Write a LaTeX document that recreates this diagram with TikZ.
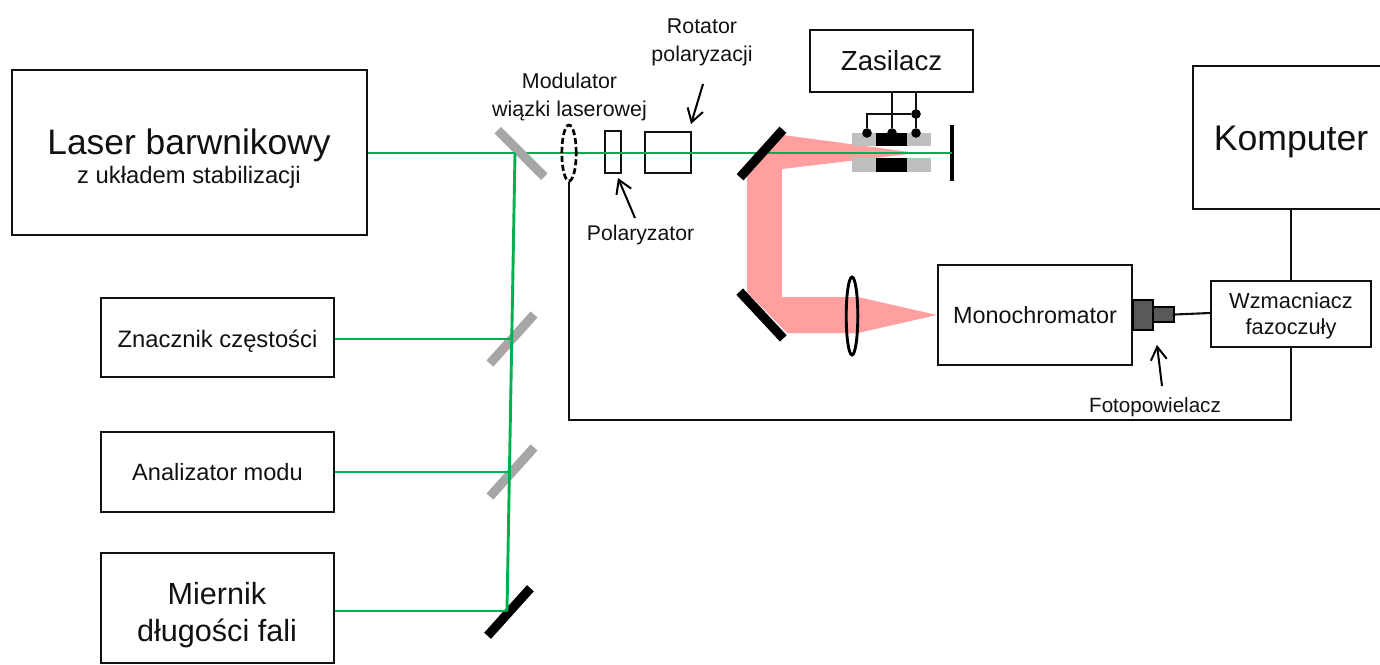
\documentclass[tikz,border=0pt]{standalone}
\usepackage{fontspec}
\setmainfont{Liberation Sans}
\usetikzlibrary{arrows.meta,shapes.geometric}
\definecolor{beamgreen}{HTML}{00B050}
\definecolor{pinkbeam}{HTML}{FF9F9F}
\definecolor{mirgrey}{HTML}{A6A6A6}
\definecolor{mountgrey}{HTML}{BFBFBF}
\definecolor{pmtgrey}{HTML}{595959}
\definecolor{inkc}{HTML}{111111}
\tikzset{
  x=0.5pt,y=-0.5pt,
  outline/.style={draw=inkc,line width=1.15pt,inner sep=0pt,rectangle,text=inkc},
  dimbox/.style 2 args={outline,minimum width=#1*0.5pt,minimum height=#2*0.5pt},
  txt/.style={inner sep=0pt,text=inkc,align=center},
  beam/.style={draw=beamgreen,line width=1.45pt},
  wire/.style={draw=inkc,line width=1.05pt},
  mirrorgrey/.style={fill=mirgrey,inner sep=0pt,rectangle,minimum width=33pt,minimum height=4.6pt},
  mirrorblack/.style={fill=black,inner sep=0pt,rectangle,minimum width=32pt,minimum height=4.6pt},
  block/.style 2 args={inner sep=0pt,rectangle,minimum width=#1*0.5pt,minimum height=#2*0.5pt},
  dot/.style={circle,fill=black,inner sep=0pt,minimum size=4.8pt},
  pointer/.style={draw=black,line width=1pt,-{Straight Barb[length=6.5pt,width=8pt,line width=1pt]}},
}
\begin{document}
\begin{tikzpicture}
\useasboundingbox (0,0) rectangle (1380,664);
% pink beam
\fill[pinkbeam] (783,135) -- (917,153) -- (782,169) -- (782,297) -- (858,297) -- (937,315) -- (858,333) -- (787,333) -- (747,292) -- (747,170) -- cycle;
% coordinates
\coordinate (split) at (515,153);
\coordinate (bottomturn) at (507,611);
\coordinate (tapA) at (512.2,339);
\coordinate (tapB) at (509.8,472);
\coordinate (corner) at (569,420);
\coordinate (lineup) at (1291,420);
% mount
\node[block={79}{13},fill=mountgrey] (mountU) at (891.5,139.5) {};
\node[block={79}{14},fill=mountgrey] (mountL) at (891.5,165) {};
\node[block={31}{13},fill=black] (elecU) at (891.5,139.5) {};
\node[block={31}{14},fill=black] (elecL) at (891.5,165) {};
% screen
\node[block={3.4}{56},fill=black] (screen) at (952,153) {};
% boxes
\node[dimbox={355}{165}] (laser) at (189.5,152.5) {};
\node[txt,font=\fontsize{17.7}{20}\selectfont] (laserA) at (189,145) {Laser barwnikowy};
\node[txt,font=\fontsize{11.9}{14}\selectfont] (laserB) at (189,177) {z układem stabilizacji};
\node[dimbox={233}{79}] (znacznik) at (217.5,337.5) {};
\node[txt,font=\fontsize{11.9}{14}\selectfont] (znacznikT) at (217.5,341) {Znacznik częstości};
\node[dimbox={233}{80},font=\fontsize{11.8}{14}\selectfont] (analizator) at (217.5,472) {Analizator modu};
\node[dimbox={233}{110}] (miernik) at (217.5,608) {};
\node[txt,font=\fontsize{15.3}{18}\selectfont] (miernikA) at (217,594) {Miernik};
\node[txt,font=\fontsize{15.3}{18}\selectfont] (miernikB) at (217,633) {długości fali};
\node[dimbox={163}{62},font=\fontsize{13.8}{16}\selectfont] (zasilacz) at (891.5,61) {Zasilacz};
\node[dimbox={220}{143}] (komputer) at (1303,137.5) {};
\node[txt,font=\fontsize{17.8}{20}\selectfont] (komputerT) at (1291,142) {Komputer};
\node[dimbox={194}{100},font=\fontsize{11.7}{14}\selectfont] (mono) at (1035,315) {Monochromator};
\node[dimbox={160}{66}] (wzm) at (1291,314) {};
\node[txt,font=\fontsize{10.9}{13}\selectfont] (wzmT) at (1291,316) {Wzmacniacz\\fazoczuły};
% optics
\node[dimbox={16}{42}] (polar) at (613,152) {};
\node[dimbox={46}{41}] (rotator) at (668,152.5) {};
% laser beams
\draw[beam] (split) -- (screen.center);
% mirrors
\node[mirrorgrey,rotate=-45] (m1) at (521,153.5) {};
\node[mirrorgrey,rotate=48] (m2) at (512,339) {};
\node[mirrorgrey,rotate=48] (m3) at (512,472) {};
\node[mirrorblack,rotate=48] (m4) at (509,612) {};
\node[mirrorblack,rotate=48] (m5) at (761.5,153.5) {};
\node[mirrorblack,rotate=-47] (m6) at (761.5,315) {};
\draw[beam] (laser.east |- split) -- (split);
\draw[beam] (split) -- (bottomturn);
\draw[beam] (znacznik.east |- tapA) -- (tapA);
\draw[beam] (analizator.east |- tapB) -- (tapB);
\draw[beam] (miernik.east |- bottomturn) -- (bottomturn);
% modulator and lens
\node[ellipse,draw=black,line width=1.35pt,dash pattern=on 3pt off 1.5pt,inner sep=0pt,minimum width=7.2pt,minimum height=28pt] (mod) at (569,153) {};
\node[ellipse,draw=black,line width=1.45pt,inner sep=0pt,minimum width=5.8pt,minimum height=39pt] (lens) at (852,316) {};
% signal lines
\draw[wire] (mod.south) -- (corner) -- (lineup) -- (wzm.south -| lineup);
\draw[wire] (komputer.south -| lineup) -- (wzm.north -| lineup);
% power supply wiring
\node[dot] (dotA) at (867,133) {};
\node[dot] (dotB) at (892,133) {};
\node[dot] (dotC) at (916,133) {};
\node[dot] (dotD) at (916,114) {};
\draw[wire] (zasilacz.south -| dotB) -- (dotB);
\draw[wire] (zasilacz.south -| dotC) -- (dotC);
\draw[wire] (dotD) -- (dotD -| dotA) -- (dotA);
% photomultiplier
\node[block={20}{30},fill=pmtgrey,draw=black,line width=0.9pt] (pmtA) at (1143,315) {};
\node[block={21}{15},fill=pmtgrey,draw=black,line width=0.9pt] (pmtB) at (1163.5,314.5) {};
\draw[wire] (pmtB.east) -- (wzm.west |- 0,313);
% text labels and pointers
\node[txt,font=\fontsize{10.7}{14}\selectfont] (modT) at (569.5,96.5) {Modulator\\wiązki laserowej};
\node[txt,font=\fontsize{10.7}{14}\selectfont] (rotT) at (702,42.5) {Rotator\\polaryzacji};
\node[txt,font=\fontsize{10.6}{13}\selectfont] (polT) at (640.5,235) {Polaryzator};
\node[txt,font=\fontsize{10.3}{13}\selectfont] (fotoT) at (1155,407) {Fotopowielacz};
\coordinate (rotTail) at (703,84);
\coordinate (rotTip) at (691,124);
\coordinate (polTail) at (635,218);
\coordinate (polTip) at (618,178);
\coordinate (fotoTail) at (1162,386);
\coordinate (fotoTip) at (1157,345);
\draw[pointer] (rotTail) -- (rotTip);
\draw[pointer] (polTail) -- (polTip);
\draw[pointer] (fotoTail) -- (fotoTip);
\end{tikzpicture}
\end{document}
